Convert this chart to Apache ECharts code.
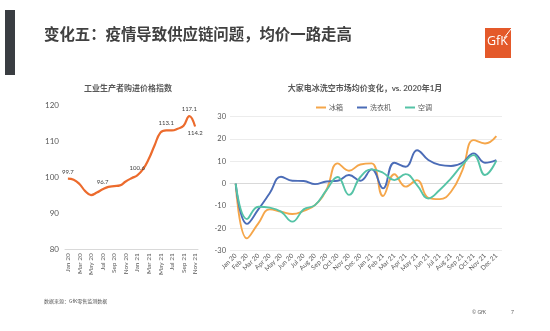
<!DOCTYPE html>
<html>
<head>
<meta charset="utf-8">
<script src="https://cdn.jsdelivr.net/npm/echarts@6/dist/echarts.min.js"></script>
<style>
  html, body { margin: 0; padding: 0; background: #ffffff; }
  #chart { width: 550px; height: 331px; }
</style>
</head>
<body>
<div id="chart"></div>
<script>
// Purchasing price index of industrial producers (monthly)
const ppiMonths = ['Jan 20','Feb 20','Mar 20','Apr 20','May 20','Jun 20','Jul 20','Aug 20','Sep 20','Oct 20','Nov 20','Dec 20',
                   'Jan 21','Feb 21','Mar 21','Apr 21','May 21','Jun 21','Jul 21','Aug 21','Sep 21','Oct 21','Nov 21'];
const ppiValues = [99.7, 99.4, 98.2, 96.2, 95.1, 95.8, 96.7, 97.4, 97.6, 97.8, 98.9, 99.8,
                   100.6, 102.3, 105.2, 109.0, 112.5, 113.1, 113.1, 113.6, 114.4, 117.1, 114.2];
// Months whose values are printed on the curve
const ppiLabelled = { 0: 'top', 6: 'top', 12: 'top', 17: 'top', 21: 'top', 22: 'bottom' };

// Average price change of fridges / washers / air conditioners vs. Jan 2020 (%)
const applianceMonths = ['Jan 20','Feb 20','Mar 20','Apr 20','May 20','Jun 20','Jul 20','Aug 20','Sep 20','Oct 20','Nov 20','Dec 20',
                         'Jan 21','Feb 21','Mar 21','Apr 21','May 21','Jun 21','Jul 21','Aug 21','Sep 21','Oct 21','Nov 21','Dec 21'];
const fridge = [0, -24.5, -17.8, -11.5, -12.5, -13.6, -12.2, -9.6, -2.8, 9.1, 5.8, 8.6,
                9.1, -5.5, 4.2, -1.3, 1.6, -6.3, -6.9, -3.6, 6.0, 19.5, 18.0, 21.3];
const washer = [0, -18.0, -11.5, -4.3, 3.1, 1.3, 1.2, -0.2, 1.0, 1.3, 3.9, 1.3,
                6.4, -2.1, 9.4, 7.6, 15.0, 10.6, 8.4, 7.9, 9.4, 13.6, 9.4, 10.6];
const aircon = [0, -15.8, -10.3, -10.7, -12.5, -17.0, -11.5, -9.6, -3.0, 3.0, -5.0, 3.0,
                6.4, 4.9, 1.6, 4.3, -0.6, -6.6, -2.8, 2.4, 8.4, 12.8, 3.9, 10.3];

const leftTicks = { min: 80, max: 120, interval: 10 };
const rightTicks = { min: -30, max: 30, interval: 10 };

const FONT = 'Lato, "Noto Sans CJK SC", sans-serif';
const GREY = '#595959';

const chart = echarts.init(document.getElementById('chart'), null, { renderer: 'canvas' });

const xLabelBase = { color: GREY, fontSize: 6.5, fontFamily: FONT, margin: 4 };

chart.setOption({
  backgroundColor: '#ffffff',
  animation: false,
  textStyle: { fontFamily: FONT },
  title: [
    { text: '工业生产者购进价格指数', left: 123, top: 79, textAlign: 'center',
      textStyle: { fontSize: 8, fontWeight: 'bold', color: GREY, fontFamily: FONT } },
    { text: '大家电冰洗空市场均价变化，vs. 2020年1月', left: 360, top: 79, textAlign: 'center',
      textStyle: { fontSize: 8, fontWeight: 'bold', color: GREY, fontFamily: FONT } }
  ],
  legend: {
    data: ['冰箱', '洗衣机', '空调'],
    left: 311, top: 99,
    itemWidth: 10, itemHeight: 2, itemGap: 14,
    icon: 'rect',
    textStyle: { fontSize: 7, color: GREY, fontFamily: FONT, padding: [0, 0, 0, -2] }
  },
  grid: [
    { left: 65, width: 133, top: 105.7, height: 143.6 },
    { left: 230, width: 272, top: 116.7, height: 134 }
  ],
  xAxis: [
    { type: 'category', gridIndex: 0, data: ppiMonths, boundaryGap: true,
      axisLine: { lineStyle: { color: '#d9d9d9' } }, axisTick: { show: false },
      axisLabel: Object.assign({}, xLabelBase, { rotate: 90, interval: 1 }) },
    { type: 'category', gridIndex: 1, data: applianceMonths, boundaryGap: true,
      axisLine: { lineStyle: { color: '#d9d9d9' } }, axisTick: { show: false },
      axisLabel: Object.assign({}, xLabelBase, { rotate: 45, interval: 0 }) }
  ],
  yAxis: [
    { type: 'value', gridIndex: 0, min: leftTicks.min, max: leftTicks.max, interval: leftTicks.interval,
      axisLine: { show: false }, axisTick: { show: false }, splitLine: { show: false },
      axisLabel: { color: GREY, fontSize: 8, fontFamily: FONT, margin: 6 } },
    { type: 'value', gridIndex: 1, min: rightTicks.min, max: rightTicks.max, interval: rightTicks.interval,
      axisLine: { show: false }, axisTick: { show: false },
      splitLine: { lineStyle: { color: '#ececec', width: 1 } },
      axisLabel: { color: GREY, fontSize: 7.5, fontFamily: FONT, margin: 4 } }
  ],
  series: [
    { name: '工业生产者购进价格指数', type: 'line', xAxisIndex: 0, yAxisIndex: 0,
      data: ppiValues.map((v, i) => ppiLabelled[i] ? {
        value: v,
        label: { show: true, position: ppiLabelled[i], distance: 3, formatter: String(v),
                 fontSize: 6, color: '#404040', fontFamily: FONT }
      } : v),
      smooth: 0.45, symbol: 'circle', symbolSize: 2, showSymbol: true,
      itemStyle: { color: 'rgba(0,0,0,0)', borderWidth: 0 },
      lineStyle: { color: '#ec6b2d', width: 2.2 } },
    { name: '冰箱', type: 'line', xAxisIndex: 1, yAxisIndex: 1, data: fridge,
      smooth: 0.45, symbol: 'none', color: '#f5a64a', lineStyle: { width: 1.9 } },
    { name: '洗衣机', type: 'line', xAxisIndex: 1, yAxisIndex: 1, data: washer,
      smooth: 0.45, symbol: 'none', color: '#4b6cb7', lineStyle: { width: 1.9 } },
    { name: '空调', type: 'line', xAxisIndex: 1, yAxisIndex: 1, data: aircon,
      smooth: 0.45, symbol: 'none', color: '#55c3a6', lineStyle: { width: 1.9 } }
  ],
  graphic: [
    // slide header bar
    { type: 'rect', shape: { x: 5, y: 10, width: 10, height: 65 }, style: { fill: '#3a3d42' } },
    { type: 'text', left: 44, top: 26,
      style: { text: '变化五：疫情导致供应链问题，均价一路走高', fill: '#404040',
               font: 'bold 15.4px "Noto Sans CJK SC", sans-serif' } },
    // logo
    { type: 'rect', shape: { x: 485, y: 28, width: 26, height: 30 }, style: { fill: '#e4592a' } },
    { type: 'text', left: 487, top: 35,
      style: { text: 'GfK', fill: '#ffffff', font: '12.5px "Open Sans", sans-serif' } },
    { type: 'line', shape: { x1: 504, y1: 38, x2: 511, y2: 29 }, style: { stroke: '#ffffff', lineWidth: 1 } },
    // footer
    { type: 'text', left: 44, top: 299,
      style: { text: '数据来源：GfK零售监测数据', fill: GREY, font: '5px "Noto Sans CJK SC", sans-serif' } },
    { type: 'text', left: 472, top: 310,
      style: { text: '© GfK', fill: GREY, font: '5px Lato, sans-serif' } },
    { type: 'text', left: 511, top: 310,
      style: { text: '7', fill: GREY, font: '5px Lato, sans-serif' } }
  ]
});
</script>
</body>
</html>
